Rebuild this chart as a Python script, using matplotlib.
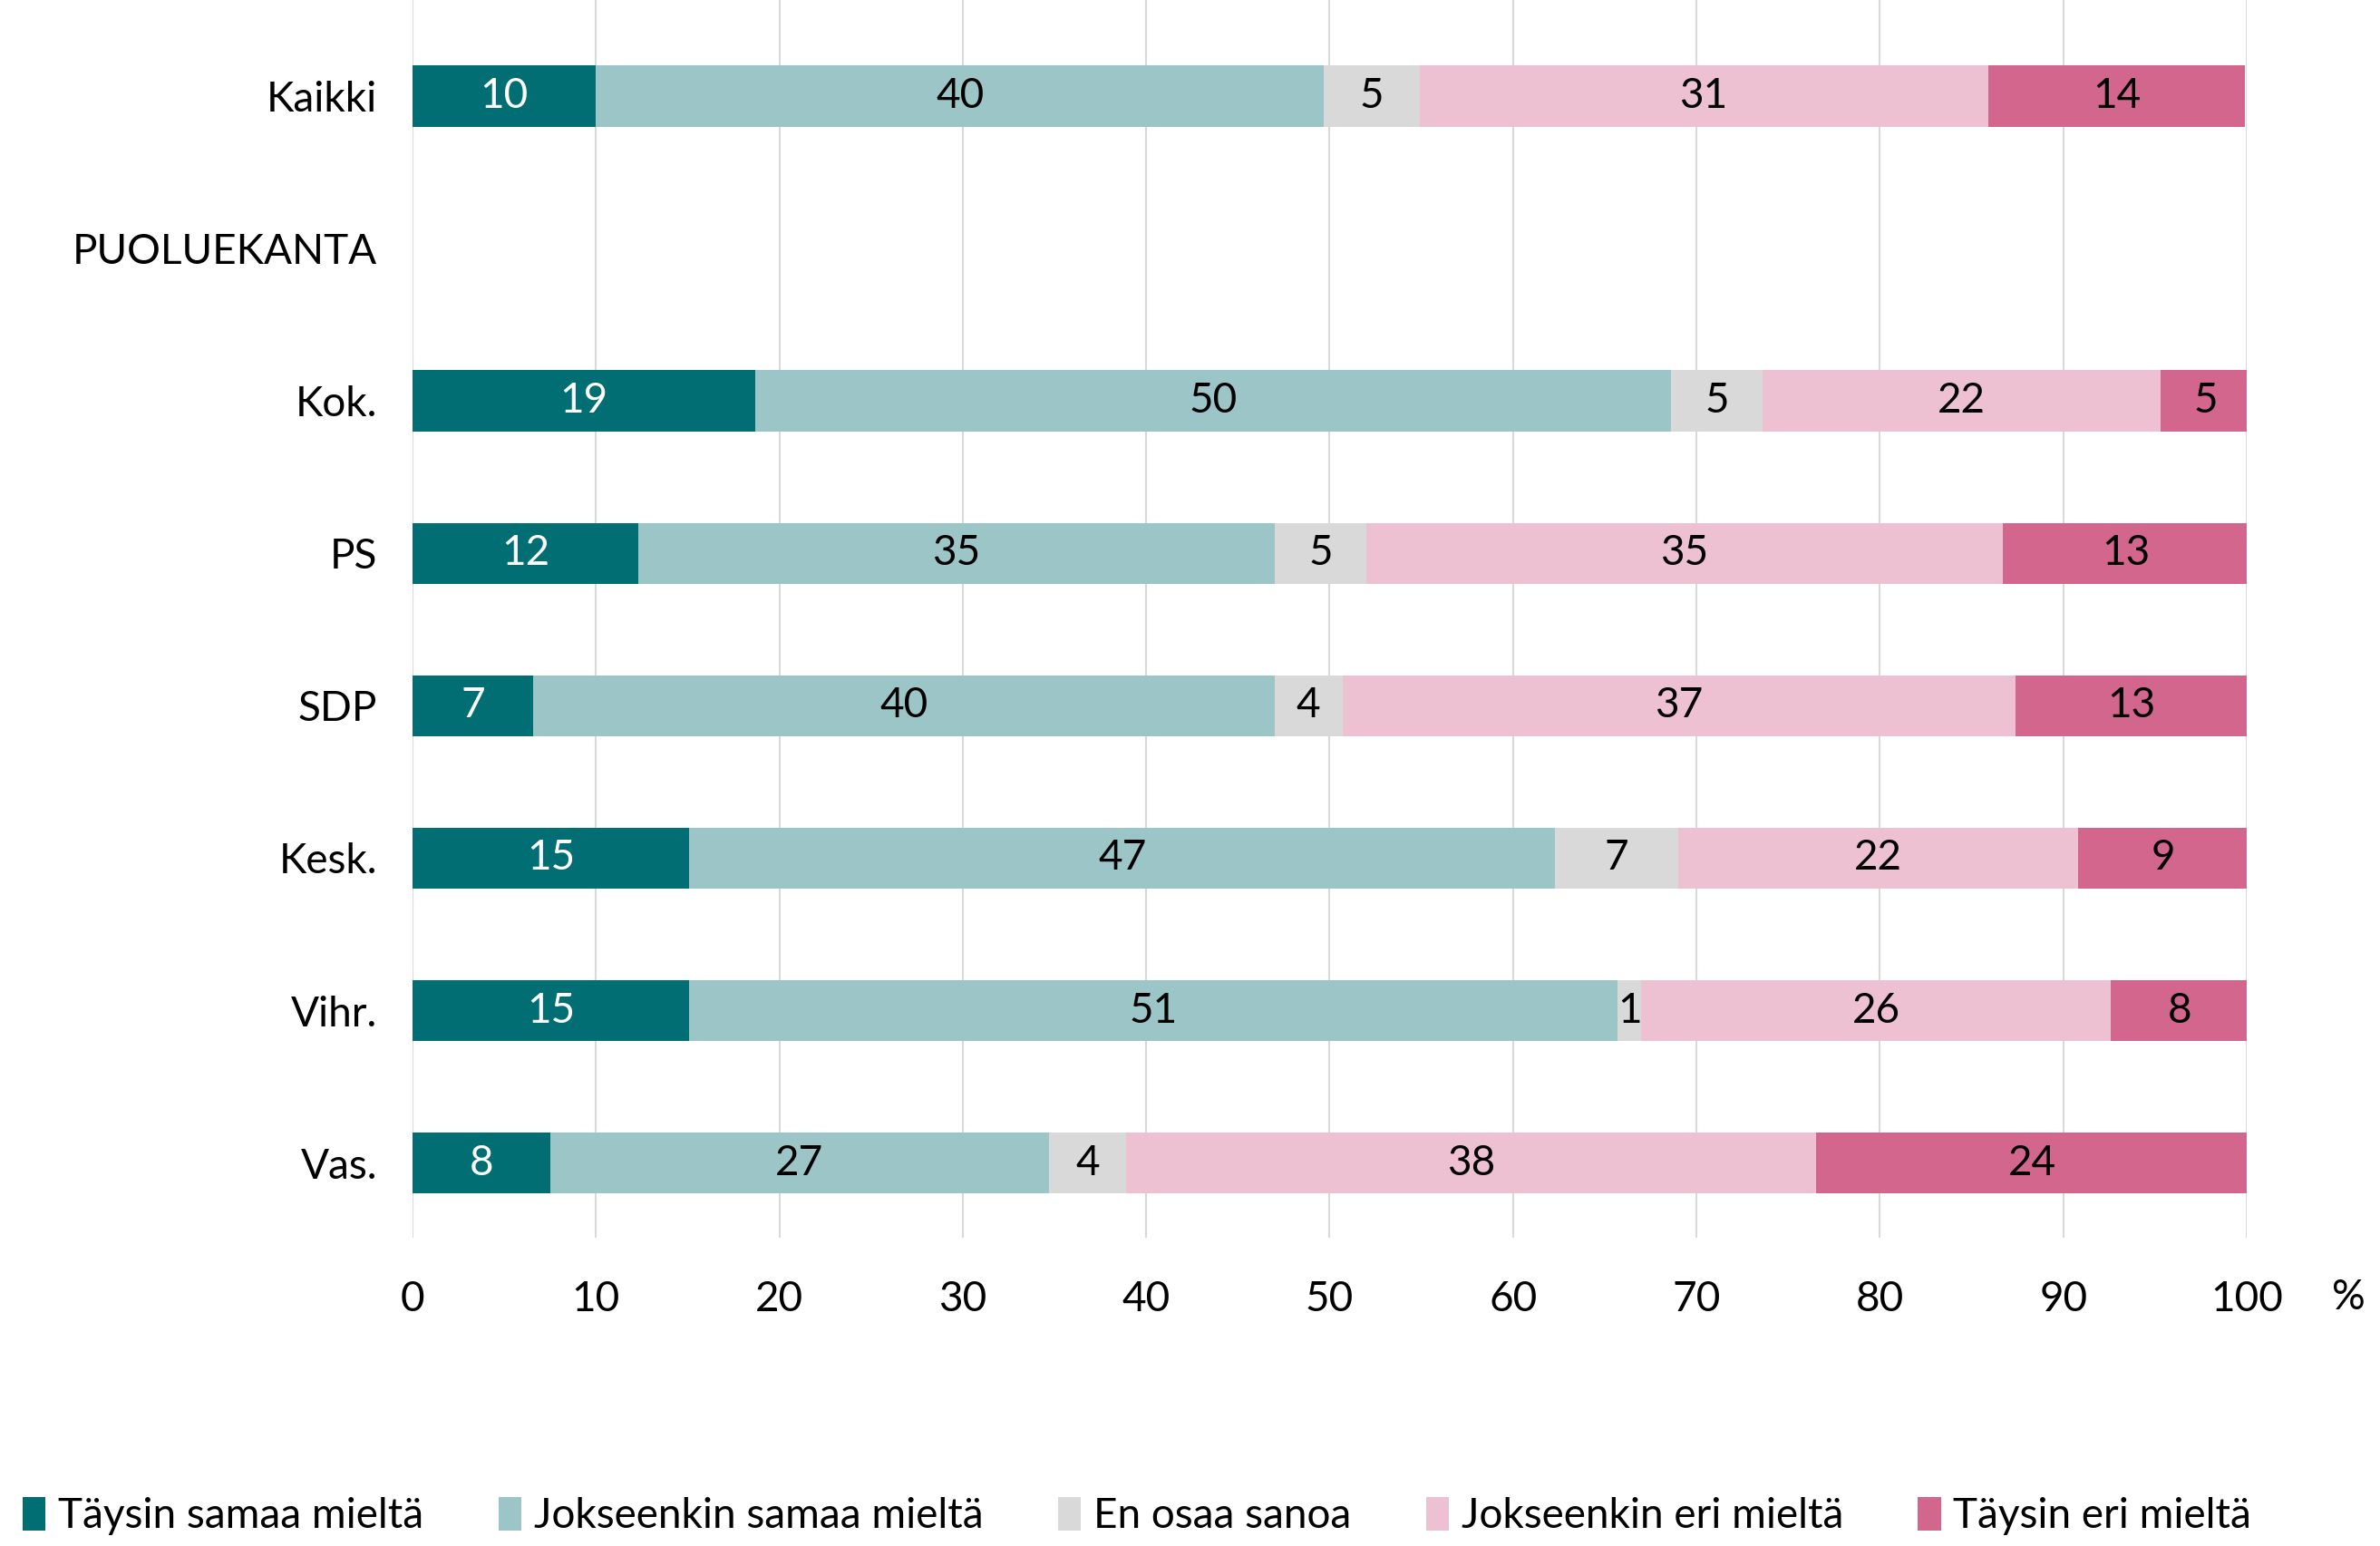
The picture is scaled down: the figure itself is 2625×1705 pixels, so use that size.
import numpy as np
import matplotlib.pyplot as plt

# Rivit (ylhäältä alas)
rivit = ['Kaikki', 'PUOLUEKANTA', 'Kok.', 'PS', 'SDP', 'Kesk.', 'Vihr.', 'Vas.']

sarjat = ['Täysin samaa mieltä', 'Jokseenkin samaa mieltä', 'En osaa sanoa',
          'Jokseenkin eri mieltä', 'Täysin eri mieltä']

# Osuudet (%), None = ei palkkia
taysin_samaa = [10.0, None, 18.7, 12.3, 6.6, 15.1, 15.1, 7.5]
jokseenkin_samaa = [39.7, None, 49.9, 34.7, 40.4, 47.2, 50.6, 27.2]
en_osaa = [5.2, None, 5.0, 5.0, 3.7, 6.7, 1.3, 4.2]
jokseenkin_eri = [31.0, None, 21.7, 34.7, 36.7, 21.8, 25.6, 37.6]
taysin_eri = [14.0, None, 4.9, 13.4, 12.6, 9.3, 7.5, 23.6]

varit = ['#006E73', '#9BC5C6', '#D9D9D9', '#EDC1D1', '#D2668C']
tekstivarit = ['white', 'black', 'black', 'black', 'black']

plt.rcParams['font.family'] = ['Lato', 'DejaVu Sans']
fs = 33

fig = plt.figure(figsize=(26.25, 17.05), dpi=100)
ax = fig.add_axes([0.1733, 0.1994, 0.7707, 0.8006])

data = [taysin_samaa, jokseenkin_samaa, en_osaa, jokseenkin_eri, taysin_eri]
y = np.arange(len(rivit))
vasen = np.zeros(len(rivit))
for arvot, vari, tv, nimi in zip(data, varit, tekstivarit, sarjat):
    leveys = np.array([0.0 if a is None else a for a in arvot])
    ax.barh(y, leveys, left=vasen, height=0.4, color=vari, label=nimi, zorder=3)
    for i, a in enumerate(arvot):
        if a is None:
            continue
        ax.text(vasen[i] + a / 2, y[i], str(int(round(a))), ha='center', va='center',
                color=tv, fontsize=fs, zorder=4)
    vasen = vasen + leveys

ax.set_xlim(0, 100)
ax.set_ylim(len(rivit) - 1 + 0.49, -0.63)
ax.set_xticks(range(0, 101, 10))
ax.set_yticks(y)
ax.set_yticklabels(rivit)
ax.tick_params(axis='x', length=0, pad=34, labelsize=fs)
ax.tick_params(axis='y', length=0, pad=28, labelsize=fs)
ax.grid(axis='x', color='#D9D9D9', linewidth=1.5, zorder=0)
for s in ax.spines.values():
    s.set_visible(False)

fig.text(0.994, 0.1605, '%', ha='right', va='center', fontsize=fs)

fig.legend(loc='lower left', bbox_to_anchor=(0.0, -0.008), ncol=5, frameon=False,
           fontsize=fs, handlelength=0.55, handleheight=0.85, handletextpad=0.3,
           columnspacing=1.8, borderaxespad=0.15)

fig.savefig('out.png', dpi=100)
